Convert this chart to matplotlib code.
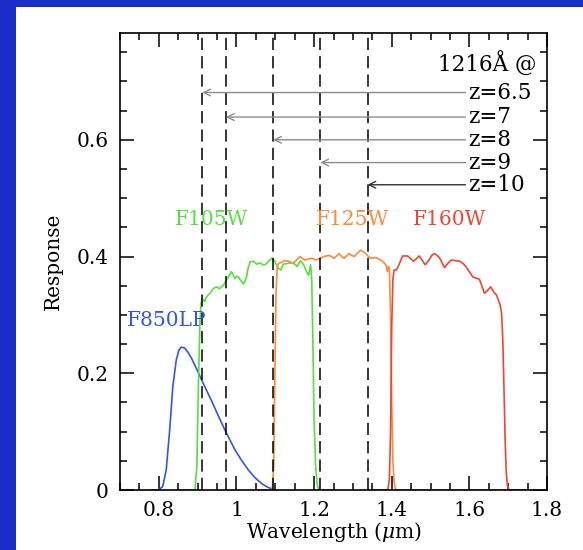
import matplotlib
matplotlib.use('Agg')
import matplotlib.pyplot as plt
from matplotlib.patches import Rectangle
from matplotlib.ticker import MultipleLocator

plt.rcParams['font.family'] = ['DejaVu Serif']
plt.rcParams['mathtext.fontset'] = 'dejavuserif'

# filter throughput curves (wavelength in micron, response)
f850_wl = [0.78, 0.797, 0.803, 0.810, 0.819, 0.828, 0.836, 0.845, 0.852, 0.858, 0.867, 0.875,
           0.884, 0.897, 0.910, 0.922, 0.935, 0.952, 0.970, 0.983, 0.996, 1.013, 1.031, 1.048,
           1.065, 1.077, 1.087, 1.095, 1.10]
f850_r = [0, 0, 0.002, 0.006, 0.034, 0.103, 0.177, 0.223, 0.240, 0.245, 0.243, 0.236,
          0.226, 0.208, 0.189, 0.172, 0.154, 0.129, 0.103, 0.086, 0.069, 0.051, 0.034, 0.021,
          0.011, 0.006, 0.003, 0.001, 0]

f105_wl = [0.85, 0.893, 0.898, 0.902, 0.906, 0.909, 0.912, 0.918, 0.922, 0.927, 0.933, 0.940,
           0.948, 0.957, 0.962, 0.967, 0.974, 0.980, 0.987, 0.992, 0.996, 1.000, 1.005, 1.012,
           1.018, 1.022, 1.026, 1.030, 1.035, 1.044, 1.052, 1.061, 1.068, 1.074, 1.083, 1.091,
           1.098, 1.104, 1.108, 1.114, 1.121, 1.130, 1.139, 1.147, 1.156, 1.165, 1.173, 1.180,
           1.186, 1.191, 1.194, 1.197, 1.200, 1.204, 1.208, 1.212, 1.25]
f105_r = [0, 0, 0.04, 0.18, 0.29, 0.32, 0.328, 0.323, 0.330, 0.334, 0.338, 0.345,
          0.348, 0.345, 0.349, 0.351, 0.360, 0.366, 0.374, 0.368, 0.362, 0.366, 0.365, 0.358,
          0.353, 0.358, 0.365, 0.380, 0.391, 0.392, 0.387, 0.389, 0.386, 0.386, 0.392, 0.397,
          0.393, 0.384, 0.380, 0.377, 0.387, 0.388, 0.389, 0.389, 0.383, 0.393, 0.386, 0.375,
          0.368, 0.386, 0.36, 0.25, 0.12, 0.04, 0.01, 0, 0]

f125_wl = [1.05, 1.092, 1.096, 1.099, 1.102, 1.105, 1.108, 1.116, 1.125, 1.135, 1.145, 1.155,
           1.164, 1.171, 1.177, 1.186, 1.195, 1.204, 1.212, 1.219, 1.225, 1.238, 1.245, 1.251,
           1.258, 1.264, 1.270, 1.277, 1.284, 1.290, 1.297, 1.303, 1.312, 1.320, 1.327, 1.333,
           1.340, 1.346, 1.353, 1.359, 1.366, 1.372, 1.379, 1.385, 1.389, 1.391, 1.394, 1.397,
           1.400, 1.403, 1.406, 1.410, 1.8]
f125_r = [0, 0, 0.04, 0.20, 0.34, 0.38, 0.388, 0.390, 0.393, 0.392, 0.388, 0.394,
          0.400, 0.396, 0.394, 0.396, 0.397, 0.394, 0.396, 0.398, 0.400, 0.402, 0.400, 0.397,
          0.401, 0.405, 0.401, 0.397, 0.401, 0.405, 0.402, 0.400, 0.406, 0.411, 0.408, 0.405,
          0.400, 0.397, 0.398, 0.398, 0.396, 0.394, 0.390, 0.386, 0.374, 0.383, 0.38, 0.30,
          0.15, 0.05, 0.015, 0, 0]

f160_wl = [1.35, 1.390, 1.394, 1.397, 1.400, 1.403, 1.406, 1.412, 1.418, 1.428, 1.441, 1.449,
           1.456, 1.463, 1.471, 1.478, 1.486, 1.495, 1.503, 1.510, 1.517, 1.523, 1.530, 1.536,
           1.544, 1.553, 1.564, 1.575, 1.584, 1.592, 1.600, 1.609, 1.617, 1.626, 1.632, 1.639,
           1.647, 1.655, 1.662, 1.670, 1.675, 1.679, 1.683, 1.686, 1.689, 1.692, 1.695, 1.698,
           1.702, 1.75]
f160_r = [0, 0, 0.02, 0.10, 0.28, 0.36, 0.377, 0.377, 0.385, 0.401, 0.401, 0.396,
          0.392, 0.396, 0.401, 0.394, 0.386, 0.393, 0.402, 0.405, 0.402, 0.398, 0.389, 0.381,
          0.388, 0.394, 0.393, 0.392, 0.388, 0.382, 0.374, 0.365, 0.363, 0.361, 0.350, 0.337,
          0.342, 0.348, 0.340, 0.334, 0.325, 0.318, 0.303, 0.26, 0.18, 0.09, 0.03, 0.008,
          0, 0]

# Lyman alpha redshifts and arrow heights
redshifts = [6.5, 7, 8, 9, 10]
z_labels = ['z=6.5', 'z=7', 'z=8', 'z=9', 'z=10']
arrow_y = [0.681, 0.639, 0.600, 0.561, 0.523]
lya = 0.1216  # micron

fig = plt.figure(figsize=(5.83, 5.5), dpi=100)
fig.patch.set_facecolor('#1c2cc9')
fig.patches.append(Rectangle((16/583, 0), 1, 1 - 7/550, transform=fig.transFigure,
                             facecolor='white', edgecolor='none', zorder=-10))

ax = fig.add_axes([120/583, 1 - 490/550, 427/583, 457/550])
ax.set_zorder(5)
ax.set_facecolor('white')

ax.plot(f850_wl, f850_r, color='#3355ee', lw=1.2)
ax.plot(f105_wl, f105_r, color='#55e040', lw=1.2)
ax.plot(f125_wl, f125_r, color='#ff8a3a', lw=1.2)
ax.plot(f160_wl, f160_r, color='#f04530', lw=1.2)

for z, lab, y in zip(redshifts, z_labels, arrow_y):
    lam = lya * (1 + z)
    ax.axvline(lam, color='black', lw=1.1, dashes=(8, 4))
    col = '0.2' if z == 10 else '0.55'
    ax.annotate('', xy=(lam, y), xytext=(1.59, y),
                arrowprops=dict(arrowstyle='->', color=col, lw=1.0,
                                shrinkA=0, shrinkB=0, mutation_scale=12))
    ax.text(1.598, y, lab, fontsize=15.5, ha='left', va='center')

ax.text(1.772, 0.729, '1216Å @', fontsize=15.5, ha='right', va='center')

ax.text(0.937, 0.463, 'F105W', color='#55e040', fontsize=14.5, ha='center', va='center')
ax.text(1.300, 0.463, 'F125W', color='#ff8a3a', fontsize=14.5, ha='center', va='center')
ax.text(1.549, 0.463, 'F160W', color='#f04530', fontsize=14.5, ha='center', va='center')
ax.text(0.718, 0.291, 'F850LP', color='#3355ee', fontsize=14.5, ha='left', va='center')

ax.set_xlim(0.7, 1.8)
ax.set_ylim(0, 0.783)
ax.xaxis.set_minor_locator(MultipleLocator(0.05))
ax.yaxis.set_minor_locator(MultipleLocator(0.05))
ax.set_xticks([0.8, 1.0, 1.2, 1.4, 1.6, 1.8])
ax.set_xticklabels(['0.8', '1', '1.2', '1.4', '1.6', '1.8'])
ax.set_yticks([0, 0.2, 0.4, 0.6])
ax.set_yticklabels(['0', '0.2', '0.4', '0.6'])
ax.tick_params(which='both', direction='in', top=True, right=True, labelsize=14.5, width=1.1)
ax.tick_params(which='major', length=10, pad=8)
ax.tick_params(which='minor', length=5)
for s in ax.spines.values():
    s.set_linewidth(1.2)

ax.set_xlabel(r'Wavelength ($\mu$m)', fontsize=14.5, labelpad=0)
ax.set_ylabel('Response', fontsize=14.5, labelpad=10)

fig.savefig('out.png', dpi=100, facecolor=fig.get_facecolor())
